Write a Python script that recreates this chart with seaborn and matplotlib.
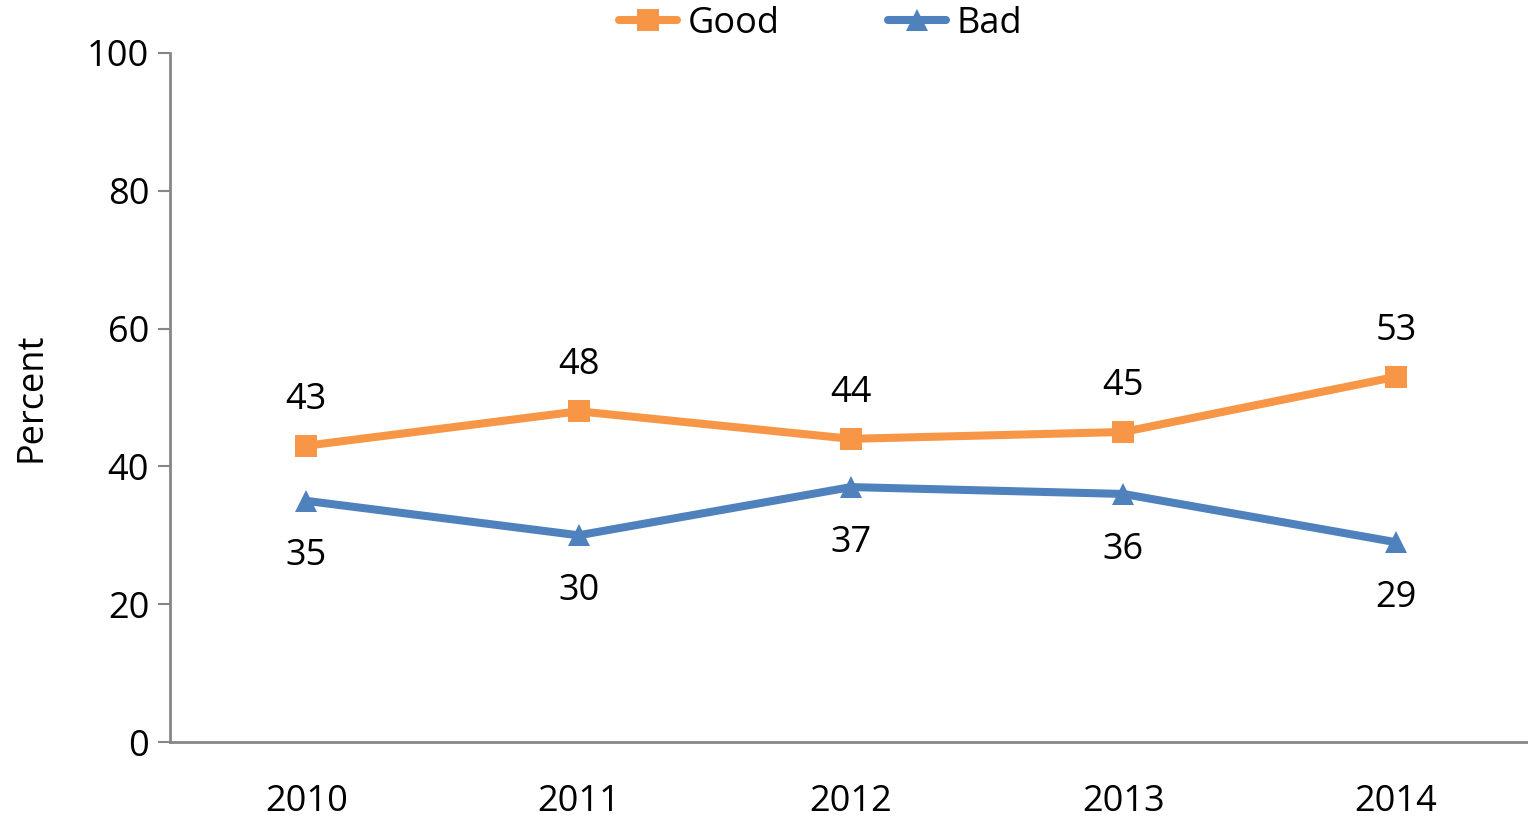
import pandas as pd
import matplotlib.pyplot as plt
import seaborn as sns

# values
years = ['2010', '2011', '2012', '2013', '2014']
good = [43, 48, 44, 45, 53]
bad = [35, 30, 37, 36, 29]
yticks = [0, 20, 40, 60, 80, 100]

df = pd.DataFrame({
    'year': years * 2,
    'value': good + bad,
    'series': ['Good'] * len(years) + ['Bad'] * len(years),
})

sns.set_style('white')
plt.rcParams['font.family'] = ['Open Sans', 'DejaVu Sans']
plt.rcParams['text.color'] = 'black'
plt.rcParams['xtick.color'] = 'black'
plt.rcParams['ytick.color'] = 'black'
plt.rcParams['axes.labelcolor'] = 'black'

fig = plt.figure(figsize=(15.28, 8.18), dpi=100)
ax = fig.add_axes([170 / 1528, 76 / 818, 1362 / 1528, 689 / 818])

palette = {'Good': '#F79646', 'Bad': '#4F81BD'}
sns.lineplot(data=df, x='year', y='value', hue='series', style='series',
             markers={'Good': 's', 'Bad': '^'}, dashes=False, palette=palette,
             linewidth=5.8, markersize=16, markeredgewidth=0, ax=ax, legend=False)

ax.set_xlim(-0.5, 4.5)
ax.set_ylim(0, 100)
ax.set_yticks(yticks)
ax.set_yticklabels([str(t) for t in yticks], fontsize=26)
ax.set_xticks(range(len(years)))
ax.set_xticklabels(years, fontsize=26)
ax.tick_params(axis='y', length=9, width=1.5, color='#868686', pad=6, direction='out', left=True)
ax.tick_params(axis='x', length=0, pad=30)

for side in ['top', 'right']:
    ax.spines[side].set_visible(False)
for side in ['left', 'bottom']:
    ax.spines[side].set_color('#868686')
    ax.spines[side].set_linewidth(2)

ax.set_xlabel('')
ax.set_ylabel('Percent', fontsize=26, labelpad=27)

# data labels
for i, v in enumerate(good):
    ax.annotate(str(v), (i, v), xytext=(0, 33), textcoords='offset points',
                ha='center', va='center', fontsize=26)
for i, v in enumerate(bad):
    ax.annotate(str(v), (i, v), xytext=(0, -40), textcoords='offset points',
                ha='center', va='center', fontsize=26)

handles = [
    plt.Line2D([], [], color=palette['Good'], marker='s', markersize=16, lw=5.8, markeredgewidth=0),
    plt.Line2D([], [], color=palette['Bad'], marker='^', markersize=16, lw=5.8, markeredgewidth=0),
]
fig.legend(handles, ['Good', 'Bad'], loc='center', bbox_to_anchor=(0.537, 1 - 24 / 818),
           ncol=2, frameon=False, fontsize=26, handlelength=1.6, handletextpad=0.3,
           columnspacing=3.0)

fig.savefig('out.png', dpi=100)
plt.close()
